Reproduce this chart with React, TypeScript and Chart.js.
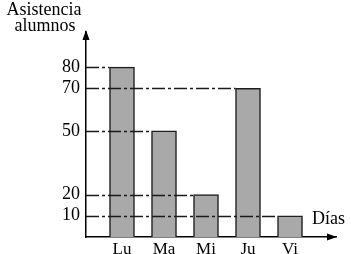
import React, { useEffect, useRef } from "react";
import { Chart, registerables } from "chart.js";

Chart.register(...registerables);

const days = ["Lu", "Ma", "Mi", "Ju", "Vi"];
const attendance = [80, 50, 20, 70, 10];
const yTickValues = [10, 20, 50, 70, 80];
const yAxisTitle = ["Asistencia", "alumnos"];
const xAxisTitle = "Días";

const FONT = "'Liberation Serif', 'Times New Roman', serif";
const INK = "#000000";

const decorPlugin = {
  id: "decor",
  afterDatasetsDraw(chart: any) {
    const { ctx, chartArea, scales } = chart;
    const y = scales.y;
    const meta = chart.getDatasetMeta(0);
    ctx.save();
    // reference lines from axis to each bar's top
    ctx.strokeStyle = "#1a1a1a";
    ctx.lineWidth = 1.3;
    ctx.setLineDash([13, 3, 3, 3]);
    attendance.forEach((v, i) => {
      const bar = meta.data[i];
      const py = Math.round(y.getPixelForValue(v)) + 0.5;
      const xEnd = bar.x - bar.width / 2;
      ctx.beginPath();
      ctx.moveTo(chartArea.left, py);
      ctx.lineTo(xEnd, py);
      ctx.stroke();
    });
    ctx.setLineDash([]);
    // arrow heads
    ctx.fillStyle = INK;
    const l = chartArea.left;
    const t = chartArea.top;
    ctx.beginPath();
    ctx.moveTo(l, t - 2);
    ctx.lineTo(l - 3.5, t + 8);
    ctx.lineTo(l + 3.5, t + 8);
    ctx.closePath();
    ctx.fill();
    const r = chartArea.right;
    const b = chartArea.bottom;
    ctx.beginPath();
    ctx.moveTo(r + 1, b);
    ctx.lineTo(r - 9, b - 3.5);
    ctx.lineTo(r - 9, b + 3.5);
    ctx.closePath();
    ctx.fill();
    // axis titles
    ctx.font = `500 18px ${FONT}`;
    ctx.textAlign = "center";
    ctx.textBaseline = "alphabetic";
    ctx.fillText(yAxisTitle[0], l - 42, 15);
    ctx.fillText(yAxisTitle[1], l - 41, 31);
    ctx.textAlign = "right";
    ctx.fillText(xAxisTitle, r + 9, b - 13);
    ctx.restore();
  },
};

export default function App() {
  const ref = useRef<HTMLCanvasElement | null>(null);
  useEffect(() => {
    if (!ref.current) return;
    const chart = new Chart(ref.current, {
      type: "bar",
      data: {
        datasets: [
          {
            data: days.map((d, i) => ({ x: i + 1, y: attendance[i] })),
            backgroundColor: "#a9a9a9",
            borderColor: "#1e1e1e",
            borderWidth: 1.5,
            barThickness: 25,
          },
        ],
      },
      options: {
        animation: false,
        responsive: false,
        devicePixelRatio: 1,
        layout: { padding: { top: 32, right: 15, left: 0, bottom: 0 } },
        plugins: { legend: { display: false }, tooltip: { enabled: false }, title: { display: false } },
        scales: {
          x: {
            type: "linear",
            offset: false,
            min: 0.143,
            max: 6.095,
            grid: { display: false, drawTicks: false, offset: false },
            border: { display: true, color: INK, width: 1.5 },
            afterBuildTicks: (s: any) => {
              s.ticks = days.map((_, i) => ({ value: i + 1 }));
            },
            afterFit: (s: any) => {
              s.height = 17;
            },
            ticks: {
              padding: 2,
              color: INK,
              font: { family: FONT, size: 17 },
              maxRotation: 0,
              autoSkip: false,
              callback: (v: any) => days[Math.round(v) - 1] ?? "",
            },
          },
          y: {
            type: "linear",
            min: 0,
            max: 96.5,
            grid: { display: false, drawTicks: false },
            border: { display: true, color: INK, width: 1.5 },
            afterBuildTicks: (s: any) => {
              s.ticks = yTickValues.map((v) => ({ value: v }));
            },
            afterFit: (s: any) => {
              s.width = 86;
            },
            ticks: {
              padding: 6,
              color: INK,
              font: { family: FONT, size: 18 },
              autoSkip: false,
            },
          },
        },
      },
      plugins: [decorPlugin],
    } as any);
    return () => chart.destroy();
  }, []);
  return (
    <div style={{ position: "fixed", left: 0, top: 0, width: 351, height: 254, background: "#fff" }}>
      <canvas ref={ref} width={351} height={254} style={{ display: "block", width: 351, height: 254 }} />
    </div>
  );
}
